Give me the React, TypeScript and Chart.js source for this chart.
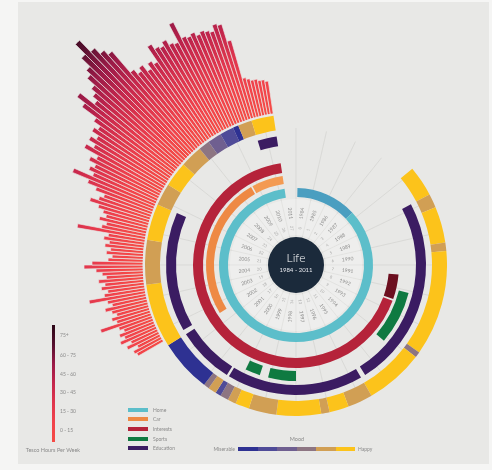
import React, { useEffect, useRef } from "react";
import { Chart, registerables } from "chart.js";

Chart.register(...registerables);

const BG = "#e8e8e6";
const PAGE = "#f5f5f4";
const CX = 296;
const CY = 265;

// ---------- data ----------
const YEARS = ["1984", "1985", "1986", "1987", "1988", "1989", "1990", "1991", "1992", "1993",
  "1994", "1995", "1996", "1997", "1998", "1999", "2000", "2001", "2002", "2003",
  "2004", "2005", "2006", "2007", "2008", "2009", "2010", "2011"];
const AGES = ["0", "1", "2", "3", "4", "5", "6", "7", "8", "9", "10", "11", "12", "13", "14",
  "15", "16", "17", "18", "19", "20", "21", "22", "23", "24", "25", "26", "27"];
const MONTHS_PER_YEAR = 12;
const TOTAL_MONTHS = YEARS.length * MONTHS_PER_YEAR;

// Tesco hours per week, one bar per month, starting at month index below
const tescoStartMonth = 224;
const tescoHours = [
  14, 15, 12, 17, 14, 19, 16, 18, 15, 17,
  26, 17, 19, 16, 18, 21, 17, 19, 28,
  20, 18, 21, 19, 22, 18, 20, 23, 29, 25,
  17, 15, 18, 16, 19, 17, 20, 18, 34,
  22, 20, 24, 21, 23, 26, 31, 27, 25,
  30, 35, 44, 34, 37, 35, 39, 36, 44,
  40, 44, 41, 45, 43, 47, 56, 61, 52, 55,
  58, 63, 66, 72, 79, 71, 67, 64, 50,
  47, 49, 45, 48, 46, 55, 52, 51, 53, 50,
  49, 59, 50, 49, 50, 48, 49, 48, 47, 50,
  49, 40, 20, 19, 18, 18, 17, 17, 16,
];
const tescoBands = ["75+", "60 - 75", "45 - 60", "30 - 45", "15 - 30", "0 - 15"];
const tescoStopHours = [0, 15, 30, 45, 60, 75, 88];
const tescoStopColors = ["#f54b45", "#f1434b", "#e0364d", "#c4264c", "#9a1a47", "#55102e", "#2c0617"];

// Rings: durations in months, colour per segment ("" = empty)
const homeMonths = [1, 43, 284, 8];
const homeColors = ["", "#4a9ec0", "#5cbeca", ""];
const carMonths = [222, 86, 1, 19, 8];
const carColors = ["", "#ee8944", "", "#f39a52", ""];
const interestMonths = [89, 13, 1, 225, 8];
const interestColors = ["", "#6c0f1f", "", "#b5233a", ""];
const sportMonths = [97, 25, 46, 13, 4, 7, 144];
const sportColors = ["", "#0f7a41", "", "#0f7a41", "", "#0f7a41", ""];
const educationMonths = [58, 80, 2, 57, 1, 24, 2, 50, 46, 8, 8];
const educationColors = ["", "#3b1c62", "", "#3b1c62", "", "#3b1c62", "", "#3b1c62", "", "#3b1c62", ""];
const moodMonths = [47, 11, 5, 13, 3, 38, 2, 21, 9, 7, 3, 16, 10, 5, 3, 3, 2, 3, 2, 19, 23, 16, 13, 8, 9, 8, 4, 5, 5, 2, 5, 8, 8];
const moodLevels = [-1, 5, 4, 5, 4, 5, 3, 5, 4, 5, 4, 5, 4, 5, 4, 3, 1, 4, 3, 0, 5, 4, 5, 4, 5, 4, 3, 2, 1, 0, 4, 5, -1];
const moodColors = ["#2e3192", "#4f4b98", "#6f5f90", "#8d7582", "#d19f54", "#fcc31b"];
const moodEnds = ["Miserable", "Happy"];

const legendNames = ["Home", "Car", "Interests", "Sports", "Education"];
const legendColors = ["#5cbeca", "#ee8944", "#b5233a", "#0f7a41", "#3b1c62"];

// ---------- helpers ----------
const ring = (data: number[], colors: string[], weight: number) => ({
  data,
  backgroundColor: colors.map((c) => c || "rgba(0,0,0,0)"),
  weight,
  borderWidth: 0,
  hoverBorderWidth: 0,
  hoverOffset: 0,
  offset: 0,
});
const spacer = (w: number) => ring([TOTAL_MONTHS], [""], w);

const TXT = "#8a8a8a";
const FONT = "Lato, 'Open Sans', sans-serif";

export default function App() {
  const barsRef = useRef<HTMLCanvasElement>(null);
  const gridRef = useRef<HTMLCanvasElement>(null);
  const ringsRef = useRef<HTMLCanvasElement>(null);

  useEffect(() => {
    const monthDeg = 360 / TOTAL_MONTHS;
    const base = 154;
    const pxPerHour = 2;
    const barR = 330;

    const bars = new Chart(barsRef.current!, {
      type: "polarArea",
      data: {
        labels: tescoHours.map((_, i) => "M" + (i + 1)),
        datasets: [
          {
            data: tescoHours,
            angle: monthDeg,
            borderColor: BG,
            borderWidth: 0.7,
            backgroundColor: (ctx: any) => {
              const chart = ctx.chart;
              const s: any = chart.scales.r;
              if (!s || !isFinite(s.xCenter) || !s.drawingArea) return tescoStopColors[1];
              const r0 = s.getDistanceFromCenterForValue(0);
              const r1 = s.drawingArea;
              const g = chart.ctx.createRadialGradient(s.xCenter, s.yCenter, r0, s.xCenter, s.yCenter, r1);
              tescoStopHours.forEach((h, i) => {
                const t = (s.getDistanceFromCenterForValue(h) - r0) / (r1 - r0);
                g.addColorStop(Math.min(1, Math.max(0, t)), tescoStopColors[i]);
              });
              return g;
            },
          } as any,
        ],
      },
      options: {
        responsive: false,
        animation: false,
        events: [],
        layout: { padding: 0 },
        plugins: { legend: { display: false }, tooltip: { enabled: false } },
        scales: {
          r: {
            type: "radialLinear",
            min: -base / pxPerHour,
            max: (barR - base) / pxPerHour,
            startAngle: tescoStartMonth * monthDeg,
            ticks: { display: false },
            grid: { display: false },
            angleLines: { display: false },
            pointLabels: { display: false },
          } as any,
        },
      },
      plugins: [
        {
          id: "mask",
          afterDatasetsDraw(chart: any) {
            const s = chart.scales.r;
            const c = chart.ctx;
            c.save();
            c.fillStyle = BG;
            c.beginPath();
            c.arc(s.xCenter, s.yCenter, s.getDistanceFromCenterForValue(0) - 0.5, 0, Math.PI * 2);
            c.fill();
            c.restore();
          },
        },
      ],
    });

    const grid = new Chart(gridRef.current!, {
      type: "polarArea",
      data: { labels: YEARS, datasets: [{ data: [] }] },
      options: {
        responsive: false,
        animation: false,
        events: [],
        plugins: { legend: { display: false }, tooltip: { enabled: false } },
        scales: {
          r: {
            type: "radialLinear",
            min: 0,
            max: 1,
            startAngle: 0,
            ticks: { display: false },
            grid: { display: false },
            angleLines: { display: true, color: "#d2d2d0", lineWidth: 0.7 },
            pointLabels: { display: false },
          } as any,
        },
      },
    });

    const rings = new Chart(ringsRef.current!, {
      type: "doughnut",
      data: {
        labels: [],
        datasets: [
          ring(moodMonths, moodLevels.map((l) => (l < 0 ? "" : moodColors[l])), 15),
          spacer(6),
          ring(educationMonths, educationColors, 10),
          spacer(4),
          ring(sportMonths, sportColors, 10),
          spacer(3),
          ring(interestMonths, interestColors, 10),
          spacer(3),
          ring(carMonths, carColors, 8),
          spacer(5),
          ring(homeMonths, homeColors, 9),
          spacer(2),
          ring(YEARS.map(() => MONTHS_PER_YEAR), YEARS.map(() => "rgba(255,255,255,0.28)"), 36),
          spacer(2),
          ring([TOTAL_MONTHS], ["#1b2a3b"], 28),
        ] as any,
      },
      options: {
        responsive: false,
        animation: false,
        events: [],
        cutout: 0,
        plugins: { legend: { display: false }, tooltip: { enabled: false } },
      } as any,
      plugins: [
        {
          id: "labels",
          afterDatasetsDraw(chart: any) {
            const c = chart.ctx;
            const a = chart.chartArea;
            const cx = (a.left + a.right) / 2;
            const cy = (a.top + a.bottom) / 2;
            const step = (Math.PI * 2) / YEARS.length;
            c.save();
            c.textAlign = "center";
            c.textBaseline = "middle";
            YEARS.forEach((y, i) => {
              const ang = (i + 0.5) * step - Math.PI / 2;
              let rot = ang;
              if (Math.cos(ang) < -0.01) rot += Math.PI;
              c.save();
              c.translate(cx + Math.cos(ang) * 52, cy + Math.sin(ang) * 52);
              c.rotate(rot);
              c.fillStyle = "#8c8c8c";
              c.font = `5px ${FONT}`;
              c.fillText(y, 0, 0);
              c.restore();
              c.save();
              c.translate(cx + Math.cos(ang) * 37, cy + Math.sin(ang) * 37);
              c.rotate(rot);
              c.fillStyle = "#a8a8a8";
              c.font = `4px ${FONT}`;
              c.fillText(AGES[i], 0, 0);
              c.restore();
            });
            c.fillStyle = "#ffffff";
            c.font = `300 12px ${FONT}`;
            c.fillText("Life", cx, cy - 7);
            c.font = `6px ${FONT}`;
            c.fillStyle = "#e6e8ee";
            c.fillText(`${YEARS[0]} - ${YEARS[YEARS.length - 1]}`, cx, cy + 5);
            c.restore();
          },
        },
      ],
    });

    return () => {
      bars.destroy();
      grid.destroy();
      rings.destroy();
    };
  }, []);

  const abs = (l: number, t: number, w: number, h: number): React.CSSProperties => ({
    position: "absolute",
    left: l,
    top: t,
    width: w,
    height: h,
  });

  const tescoGradient = `linear-gradient(to top, ${tescoStopColors.slice(0, 6).join(", ")}, #2c0617)`;

  return (
    <div style={{ position: "fixed", left: 0, top: 0, width: 492, height: 470, overflow: "hidden", background: PAGE, fontFamily: FONT }}>
      <div style={{ ...abs(18, 2, 471, 462), background: BG }} />
      <canvas ref={barsRef} width={660} height={660} style={abs(CX - 330, CY - 330, 660, 660)} />
      <canvas ref={gridRef} width={274} height={274} style={abs(CX - 137, CY - 137, 274, 274)} />
      <canvas ref={ringsRef} width={302} height={302} style={abs(CX - 151, CY - 151, 302, 302)} />

      {/* Tesco legend */}
      <div style={{ ...abs(52, 325, 3, 117), background: tescoGradient }} />
      {tescoBands.map((b, i) => (
        <div key={b} style={{ position: "absolute", left: 60, top: [335, 355, 374, 392, 411, 430][i] - 3, fontSize: 5, lineHeight: "6px", color: TXT, whiteSpace: "nowrap" }}>
          {b}
        </div>
      ))}
      <div style={{ position: "absolute", left: 23, width: 60, top: 447, fontSize: 5.5, lineHeight: "6px", color: TXT, textAlign: "center", whiteSpace: "nowrap" }}>
        Tesco Hours Per Week
      </div>

      {/* Category legend */}
      {legendNames.map((n, i) => (
        <React.Fragment key={n}>
          <div style={{ ...abs(128, [410, 419, 429, 439, 448][i] - 2, 20, 4), background: legendColors[i] }} />
          <div style={{ position: "absolute", left: 153, top: [410, 419, 429, 439, 448][i] - 3, fontSize: 5, lineHeight: "6px", color: TXT, whiteSpace: "nowrap" }}>
            {n}
          </div>
        </React.Fragment>
      ))}

      {/* Mood legend */}
      <div style={{ position: "absolute", left: 277, width: 40, top: 436, fontSize: 5.5, lineHeight: "6px", color: TXT, textAlign: "center" }}>Mood</div>
      <div style={{ position: "absolute", left: 200, width: 35, top: 446, fontSize: 5, lineHeight: "6px", color: TXT, textAlign: "right" }}>{moodEnds[0]}</div>
      <div style={{ ...abs(238, 447, 117, 4), display: "flex" }}>
        {moodColors.map((c) => (
          <div key={c} style={{ flex: 1, background: c }} />
        ))}
      </div>
      <div style={{ position: "absolute", left: 358, top: 446, fontSize: 5, lineHeight: "6px", color: TXT }}>{moodEnds[1]}</div>
    </div>
  );
}
